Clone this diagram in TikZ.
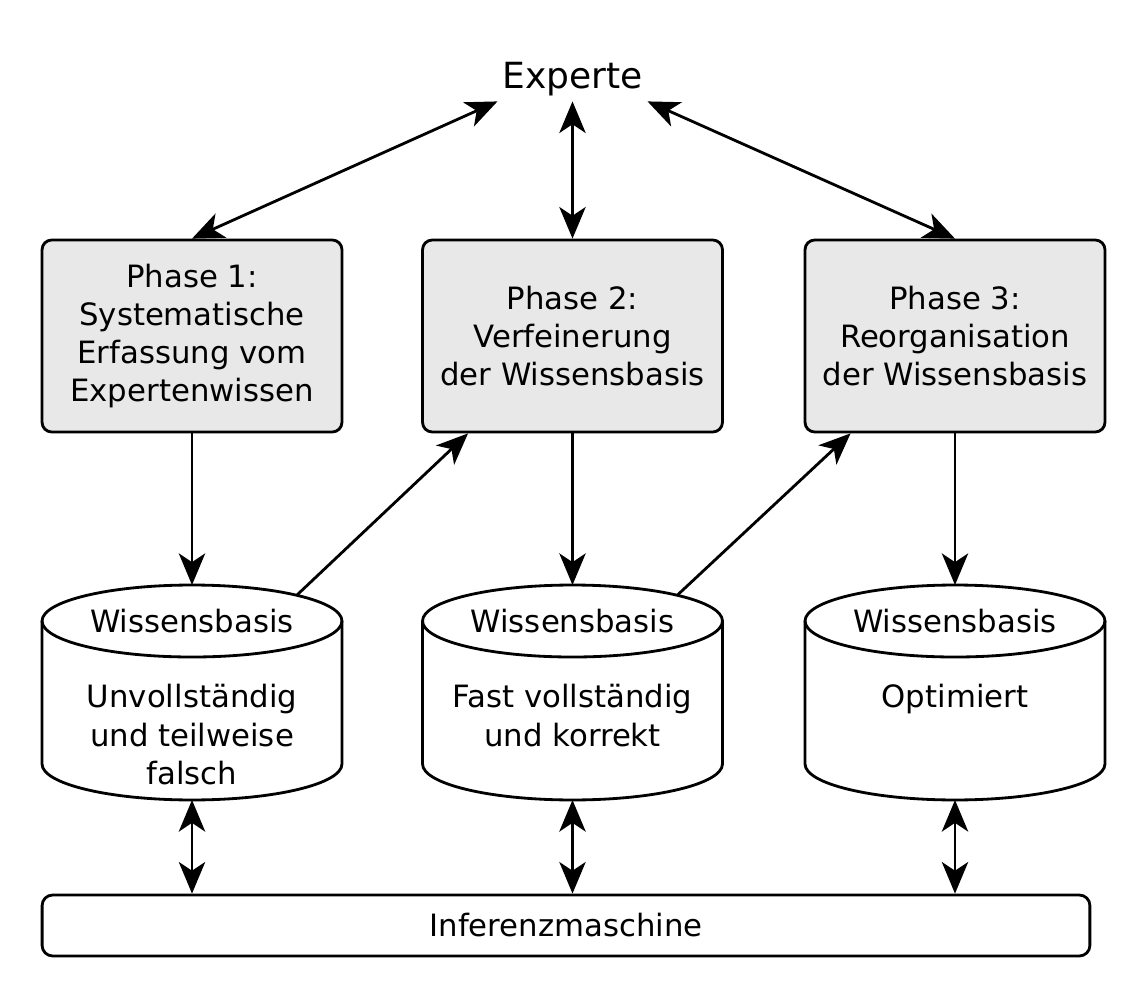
\documentclass[tikz,border=0pt]{standalone}
\usepackage{fontspec}
\setmainfont{DejaVu Sans}
\usetikzlibrary{arrows.meta}
\definecolor{phasegray}{RGB}{232,232,232}

\begin{document}
\begin{tikzpicture}[x=0.02cm,y=-0.02cm,line width=1.6pt,
  >={Stealth[length=18pt,width=15pt,inset=5pt]},
  every node/.style={font=\fontsize{17.5}{21.8}\selectfont,align=center},
  phase/.style={draw,fill=phasegray,rounded corners=5.5pt,minimum width=6cm,minimum height=3.84cm},
  kb/.style={minimum width=6cm,minimum height=4.3cm,inner sep=0pt,outer sep=0pt},
  lid/.style={x radius=3cm,y radius=0.72cm}]
\useasboundingbox (0,0) rectangle (1147,1000);
\node[anchor=base,inner sep=2pt,font=\fontsize{20.5}{24}\selectfont] (ex) at (572.5,89) {Experte};
\node[phase] (p1) at (192,336) {Phase 1:\\Systematische\\Erfassung vom\\Expertenwissen};
\node[phase] (p2) at (572.5,336) {Phase 2:\\Verfeinerung\\der Wissensbasis};
\node[phase] (p3) at (955,336) {Phase 3:\\Reorganisation\\der Wissensbasis};
% Wissensbasen als Zylinder
\foreach \i/\x/\t in {1/192/{Unvollständig\\und teilweise\\falsch},2/572.5/{Fast vollständig\\und korrekt},3/955/Optimiert}{
  \node[kb] (c\i) at (\x,692.5) {};
  \draw ([yshift=-0.72cm]c\i.north west) -- ([yshift=0.72cm]c\i.south west)
    arc[start angle=180,end angle=360,lid] -- ([yshift=-0.72cm]c\i.north east);
  \draw ([yshift=-0.72cm]c\i.north) ellipse[lid];
  \node[anchor=base] (w\i) at (\x,632) {Wissensbasis};
  \node[anchor=north,inner sep=0pt] (t\i) at (\x,683) {\t};
}
\coordinate (d1) at (297,595); \coordinate (d2) at (677.5,595);
\node[draw,rounded corners=6pt,minimum width=20.96cm,minimum height=1.22cm] (inf) at (566,925.5) {Inferenzmaschine};
% Experte <-> Phasen
\draw[<->] (ex.south west) -- (p1.north);
\draw[<->] (ex.south) -- (p2.north);
\draw[<->] (ex.south east) -- (p3.north);
\foreach \i in {1,2,3}{
  \draw[->] (p\i) -- (c\i);
  \draw[<->] (c\i.south) -- (c\i.south |- inf.north);
}
\draw[->] (d1) -- (p2.223);
\draw[->] (d2) -- (p3.223);
\end{tikzpicture}
\end{document}
